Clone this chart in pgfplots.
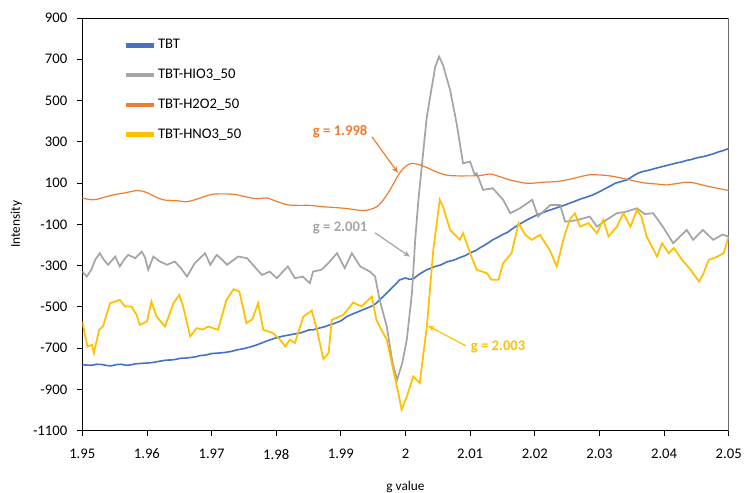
\documentclass[border=0pt]{standalone}
\usepackage{fontspec}
\setmainfont{Carlito}
\usepackage{pgfplots}
\pgfplotsset{compat=1.18}
\usetikzlibrary{arrows.meta}
\definecolor{cBlue}{HTML}{4472C4}
\definecolor{cGray}{HTML}{A5A5A5}
\definecolor{cOrange}{HTML}{ED7D31}
\definecolor{cYellow}{HTML}{FFC000}
\begin{document}
\begin{tikzpicture}
\useasboundingbox (-61.7pt,-46.7pt) rectangle (497pt,323pt);
\begin{axis}[
  at={(0pt,0pt)}, anchor=south west,
  scale only axis, width=484.8pt, height=309.5pt,
  xmin=1.95, xmax=2.05, ymin=-1100, ymax=900,
  xtick={1.95,1.96,1.97,1.98,1.99,2.00,2.01,2.02,2.03,2.04,2.05},
  xticklabels={1.95,1.96,1.97,1.98,1.99,2,2.01,2.02,2.03,2.04,2.05},
  ytick={-1100,-900,-700,-500,-300,-100,100,300,500,700,900},
  yticklabels={-1100,-900,-700,-500,-300,-100,100,300,500,700,900},
  tick align=outside, xtick pos=bottom, ytick pos=left,
  major tick length=3.75pt,
  every tick/.style={black, line width=0.6pt},
  axis line style={black, line width=0.6pt},
  tick label style={font=\fontsize{11}{13}\selectfont},
  xticklabel style={yshift=-6.5pt},
  yticklabel style={xshift=-4pt},
  label style={font=\fontsize{11}{13}\selectfont},
  xlabel={g value}, ylabel={Intensity},
  every axis x label/.style={at={(rel axis cs:0.5,0)}, yshift=-44.5pt, anchor=base},
  every axis y label/.style={at={(rel axis cs:0,0.5)}, xshift=-49.5pt, rotate=90, anchor=center},
  legend style={draw=none, fill=none, at={(rel axis cs:0.064,0.952)}, anchor=north west,
    font=\fontsize{11}{13}\selectfont, row sep=11.8pt, inner sep=0pt,
    nodes={inner sep=1pt}},
  legend cell align=left,
  legend image code/.code={\draw[#1, line width=3.6pt] (0pt,0pt) -- (21pt,0pt);},
  clip=true,
]
\addplot[cBlue, line width=1.2pt] coordinates {
(1.9500,-780)(1.9508,-782)(1.9515,-783)(1.9522,-778)(1.9530,-779)(1.9538,-784)(1.9545,-786)(1.9552,-780)(1.9560,-778)(1.9568,-783)(1.9575,-781)(1.9582,-776)(1.9590,-774)
(1.9600,-772)(1.9608,-770)(1.9615,-766)(1.9622,-762)(1.9630,-758)(1.9638,-757)(1.9645,-754)(1.9652,-749)(1.9660,-748)(1.9668,-745)(1.9675,-742)(1.9682,-736)(1.9690,-734)
(1.9700,-726)(1.9710,-724)(1.9720,-721)(1.9730,-716)(1.9740,-708)(1.9750,-702)(1.9760,-694)
(1.9770,-684)(1.9780,-672)(1.9790,-660)(1.9800,-650)(1.9810,-642)(1.9820,-636)(1.9830,-630)
(1.9840,-624)(1.9850,-612)(1.9857,-611)(1.9865,-604)(1.9875,-596)(1.9883,-587)(1.9890,-580)
(1.9900,-568)(1.9909,-547)(1.9920,-532)(1.9934,-514)(1.9945,-500)(1.9952,-490)(1.9960,-466)
(1.9968,-442)(1.9976,-417)(1.9984,-392)(1.9991,-369)(2.0000,-360)(2.0006,-366)(2.0012,-364)
(2.0022,-340)(2.0033,-320)(2.0045,-305)(2.0055,-296)(2.0064,-282)(2.0074,-274)(2.0084,-261)(2.0092,-252)(2.0100,-238)(2.0108,-228)(2.0115,-214)
(2.0125,-196)(2.0135,-175)(2.0142,-164)(2.0150,-150)(2.0158,-138)(2.0165,-122)(2.0176,-100)(2.0188,-78)(2.0196,-66)(2.0205,-52)(2.0212,-44)(2.0220,-34)(2.0230,-24)(2.0239,-14)
(2.0247,-6)(2.0255,4)(2.0262,12)(2.0270,22)(2.0280,32)(2.0290,43)(2.0300,58)(2.0310,75)(2.0318,88)(2.0325,100)(2.0334,108)(2.0342,115)(2.0348,126)(2.0355,140)(2.0361,150)(2.0367,156)
(2.0376,162)(2.0385,170)(2.0392,176)(2.0400,182)(2.0410,190)(2.0420,198)(2.0428,203)(2.0435,210)(2.0442,214)(2.0450,222)(2.0460,228)(2.0470,236)(2.0478,244)(2.0485,252)(2.0492,258)(2.0500,268)
};
\addlegendentry{TBT}
\addplot[cGray, line width=1.3pt] coordinates {
(1.9500,-329)(1.9507,-353)(1.9514,-320)(1.9520,-272)(1.9527,-240)(1.9533,-270)(1.9540,-296)
(1.9551,-256)(1.9558,-304)(1.9565,-270)(1.9571,-248)(1.9582,-264)(1.9592,-232)(1.9597,-260)
(1.9602,-320)(1.9610,-256)(1.9620,-280)(1.9631,-296)(1.9643,-280)(1.9652,-310)(1.9662,-353)
(1.9674,-288)(1.9690,-240)(1.9698,-296)(1.9708,-248)(1.9716,-270)(1.9724,-296)(1.9741,-256)
(1.9755,-264)(1.9765,-300)(1.9778,-345)(1.9790,-329)(1.9801,-361)(1.9810,-330)(1.9818,-304)
(1.9829,-361)(1.9841,-353)(1.9852,-385)(1.9857,-329)(1.9870,-320)(1.9880,-290)(1.9894,-240)
(1.9906,-312)(1.9917,-240)(1.9930,-304)(1.9945,-329)(1.9953,-353)(1.9960,-466)(1.9971,-595)
(1.9980,-772)(1.9987,-853)(1.9995,-772)(2.0002,-659)(2.0010,-433)(2.0015,-175)(2.0020,19)
(2.0023,115)(2.0033,422)(2.0046,664)(2.0052,713)(2.0058,672)(2.0069,551)(2.0079,390)
(2.0089,196)(2.0100,204)(2.0107,140)(2.0110,148)(2.0120,67)(2.0135,75)(2.0151,19)(2.0162,-46)
(2.0177,-22)(2.0196,19)(2.0205,-62)(2.0224,-6)(2.0239,-6)(2.0247,-87)(2.0265,-80)(2.0285,-62)
(2.0296,-111)(2.0310,-80)(2.0327,-46)(2.0342,-38)(2.0358,-22)(2.0370,-50)(2.0383,-46)
(2.0398,-111)(2.0414,-191)(2.0435,-127)(2.0445,-175)(2.0460,-127)(2.0476,-175)(2.0490,-150)
(2.0500,-159)
};
\addlegendentry{TBT-HIO3\_50}
\addplot[cOrange, line width=0.9pt, smooth] coordinates {
(1.9500,27)(1.9517,19)(1.9530,28)(1.9548,43)(1.9565,52)(1.9586,64)(1.9600,54)(1.9612,35)
(1.9625,19)(1.9645,15)(1.9662,10)(1.9680,25)(1.9702,46)(1.9733,46)(1.9755,32)(1.9770,24)
(1.9785,28)(1.9800,12)(1.9817,-5)(1.9835,-8)(1.9852,-8)(1.9870,-14)(1.9884,-17)(1.9905,-22)
(1.9920,-28)(1.9934,-33)(1.9945,-28)(1.9956,-14)(1.9966,20)(1.9976,67)(1.9991,149)
(2.0000,180)(2.0010,196)(2.0027,183)(2.0040,165)(2.0053,148)(2.0065,138)(2.0079,135)
(2.0100,135)(2.0115,136)(2.0131,144)(2.0147,130)(2.0162,115)(2.0188,99)(2.0213,104)
(2.0235,108)(2.0255,119)(2.0285,140)(2.0316,135)(2.0342,119)(2.0367,102)(2.0390,95)
(2.0404,91)(2.0420,98)(2.0440,104)(2.0470,83)(2.0500,64)
};
\addlegendentry{TBT-H2O2\_50}
\addplot[cYellow, line width=1.3pt] coordinates {
(1.9500,-571)(1.9508,-692)(1.9515,-684)(1.9518,-724)(1.9526,-611)(1.9532,-595)(1.9543,-482)
(1.9551,-474)(1.9558,-466)(1.9566,-498)(1.9576,-498)(1.9584,-538)(1.9589,-587)(1.9600,-571)
(1.9607,-474)(1.9615,-547)(1.9628,-595)(1.9641,-482)(1.9650,-442)(1.9656,-498)(1.9667,-643)
(1.9677,-603)(1.9686,-610)(1.9695,-595)(1.9710,-611)(1.9723,-466)(1.9734,-414)(1.9743,-426)
(1.9754,-579)(1.9763,-560)(1.9772,-482)(1.9780,-611)(1.9795,-627)(1.9806,-659)(1.9814,-692)
(1.9821,-659)(1.9829,-675)(1.9842,-547)(1.9855,-518)(1.9863,-611)(1.9873,-753)(1.9881,-724)
(1.9886,-563)(1.9904,-538)(1.9919,-479)(1.9932,-498)(1.9948,-450)(1.9955,-563)(1.9960,-595)
(1.9971,-659)(1.9981,-805)(1.9989,-918)(1.9994,-998)(2.0002,-934)(2.0012,-837)(2.0022,-869)
(2.0033,-595)(2.0043,-224)(2.0053,19)(2.0058,-14)(2.0069,-127)(2.0084,-175)(2.0089,-143)
(2.0100,-240)(2.0110,-320)(2.0126,-337)(2.0133,-369)(2.0144,-369)(2.0151,-288)(2.0164,-240)
(2.0175,-94)(2.0185,-150)(2.0195,-175)(2.0208,-151)(2.0223,-224)(2.0234,-304)(2.0244,-175)
(2.0254,-78)(2.0262,-46)(2.0270,-111)(2.0283,-94)(2.0296,-143)(2.0306,-78)(2.0314,-159)
(2.0327,-111)(2.0337,-46)(2.0348,-111)(2.0358,-30)(2.0365,-62)(2.0373,-159)(2.0389,-256)
(2.0397,-191)(2.0407,-240)(2.0415,-215)(2.0428,-272)(2.0441,-320)(2.0454,-377)(2.0461,-337)
(2.0469,-272)(2.0480,-260)(2.0492,-240)(2.0500,-159)
};
\addlegendentry{TBT-HNO3\_50}
\draw[cGray, line width=1.4pt] (rel axis cs:1,0) -- (rel axis cs:1,1);
\node[text=cOrange, font=\bfseries\fontsize{11}{13}\selectfont] at (axis cs:1.98989,348) {g = 1.998};
\draw[cOrange, line width=0.9pt, -{Stealth[length=5pt,width=4pt]}] (axis cs:1.99482,324) -- (axis cs:1.99884,149);
\node[text=cGray, font=\bfseries\fontsize{11}{13}\selectfont] at (axis cs:1.98989,-117) {g = 2.001};
\draw[cGray, line width=0.9pt, -{Stealth[length=5pt,width=4pt]}] (axis cs:1.99528,-141) -- (axis cs:2.00069,-257);
\node[text=cYellow, font=\bfseries\fontsize{11}{13}\selectfont] at (axis cs:2.01432,-693) {g = 2.003};
\draw[cYellow, line width=0.9pt, -{Stealth[length=5pt,width=4pt]}] (axis cs:2.00936,-689) -- (axis cs:2.00348,-592);
\end{axis}
\end{tikzpicture}
\end{document}
